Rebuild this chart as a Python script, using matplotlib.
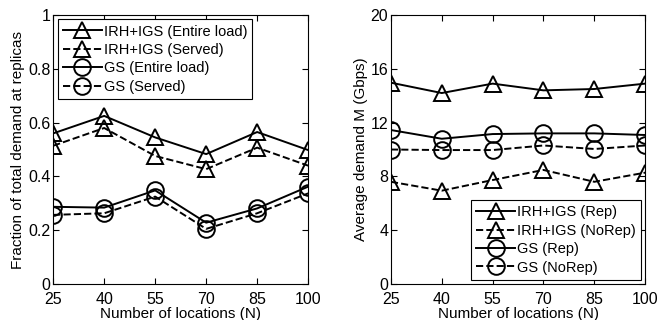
import matplotlib.pyplot as plt

plt.rcParams['font.family'] = ['Liberation Sans', 'DejaVu Sans']
plt.rcParams['xtick.direction'] = 'in'
plt.rcParams['ytick.direction'] = 'in'

locations = [25, 40, 55, 70, 85, 100]

# left panel: fraction of demand at replicas
irh_entire = [0.56, 0.625, 0.545, 0.483, 0.565, 0.498]
irh_served = [0.514, 0.58, 0.476, 0.427, 0.507, 0.44]
gs_entire = [0.287, 0.284, 0.348, 0.228, 0.281, 0.362]
gs_served = [0.257, 0.263, 0.325, 0.205, 0.263, 0.337]

# right panel: average demand M (Gbps)
irh_rep = [14.97, 14.2, 14.9, 14.4, 14.5, 14.9]
irh_norep = [7.6, 6.94, 7.73, 8.48, 7.6, 8.28]
gs_rep = [11.45, 10.8, 11.15, 11.2, 11.2, 11.08]
gs_norep = [10.0, 9.96, 9.96, 10.3, 10.04, 10.3]

fig = plt.figure(figsize=(6.57, 3.2), dpi=100)
ax1 = fig.add_axes([0.081, 0.1125, 0.388, 0.8405])
ax2 = fig.add_axes([0.595, 0.1125, 0.387, 0.8405])

style = dict(color='black', lw=1.4, ms=12, mfc='none', mew=1.4)

ax1.plot(locations, irh_entire, '-^', label='IRH+IGS (Entire load)', **style)
ax1.plot(locations, irh_served, '--^', label='IRH+IGS (Served)', **style)
ax1.plot(locations, gs_entire, '-o', label='GS (Entire load)', **style)
ax1.plot(locations, gs_served, '--o', label='GS (Served)', **style)
ax1.set_ylim(0, 1)
ax1.set_yticks([0, 0.2, 0.4, 0.6, 0.8, 1])
ax1.set_yticklabels(['0', '0.2', '0.4', '0.6', '0.8', '1'])
ax1.set_ylabel('Fraction of total demand at replicas', fontsize=11, labelpad=2)

ax2.plot(locations, irh_rep, '-^', label='IRH+IGS (Rep)', **style)
ax2.plot(locations, irh_norep, '--^', label='IRH+IGS (NoRep)', **style)
ax2.plot(locations, gs_rep, '-o', label='GS (Rep)', **style)
ax2.plot(locations, gs_norep, '--o', label='GS (NoRep)', **style)
ax2.set_ylim(0, 20)
ax2.set_yticks([0, 4, 8, 12, 16, 20])
ax2.set_ylabel('Average demand M (Gbps)', fontsize=11, labelpad=2)

for ax in (ax1, ax2):
    ax.set_xlim(25, 100)
    ax.set_xticks(locations)
    ax.set_xlabel('Number of locations (N)', fontsize=11, labelpad=0)
    ax.tick_params(labelsize=11.5, top=True, right=True, length=4)
    ax.tick_params(axis='x', pad=6)
    ax.tick_params(axis='y', pad=2)
    for s in ax.spines.values():
        s.set_linewidth(0.8)

leg_opts = dict(fontsize=10.5, frameon=True, fancybox=False, edgecolor='black',
                framealpha=1, handlelength=2.7, handletextpad=0.1,
                labelspacing=0.3, borderpad=0.35, borderaxespad=0.3)
l1 = ax1.legend(loc='upper left', **leg_opts)
l2 = ax2.legend(loc='lower right', **leg_opts)
for l in (l1, l2):
    l.get_frame().set_linewidth(0.8)

fig.savefig('out.png', dpi=100)
